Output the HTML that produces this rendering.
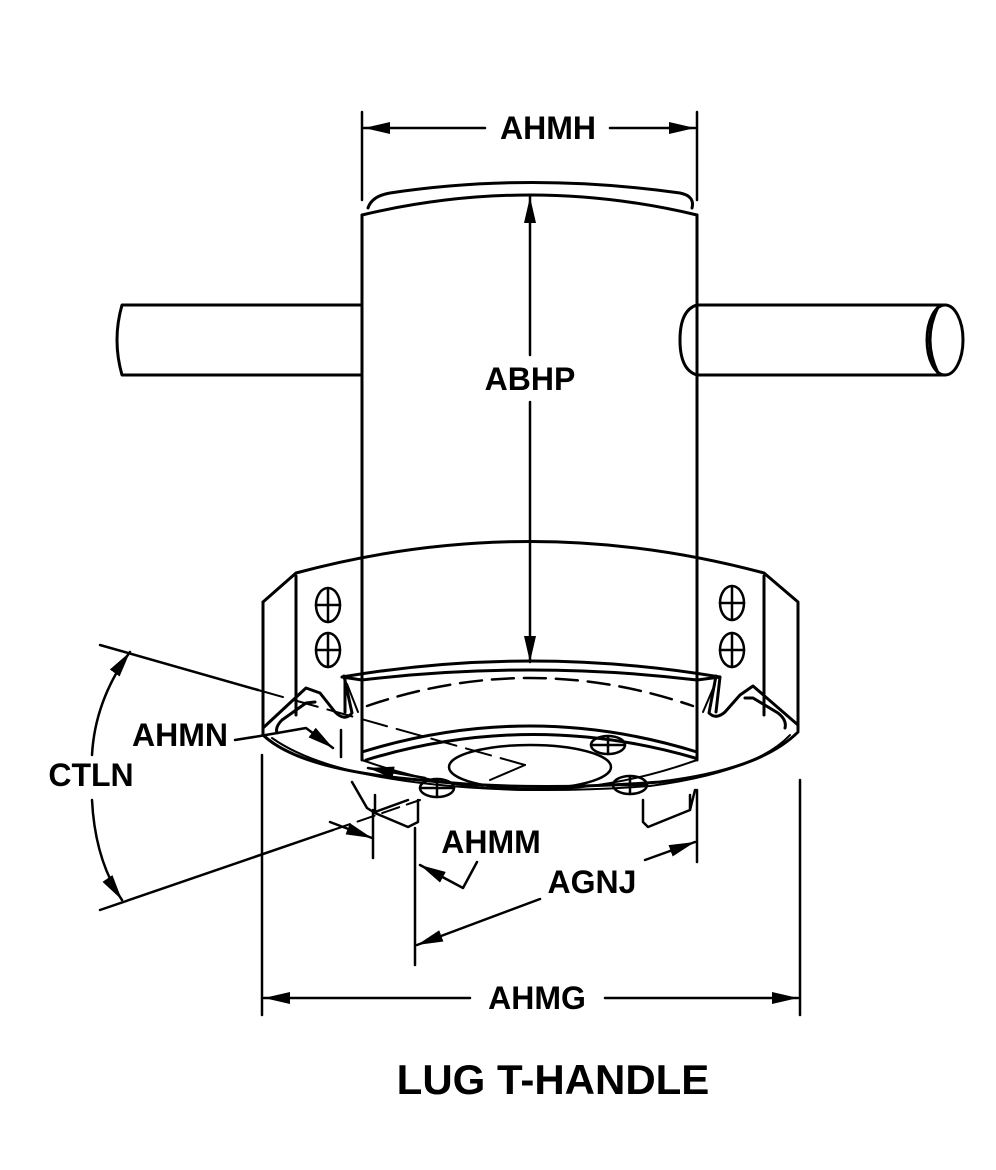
<!DOCTYPE html>
<html><head><style>
html,body{margin:0;padding:0;background:#fff;}
svg{display:block;}
text{font-family:"Liberation Sans",Arial,sans-serif;font-weight:bold;fill:#000;}
</style></head><body>
<svg width="996" height="1170" viewBox="0 0 996 1170" xmlns="http://www.w3.org/2000/svg">
<defs>
<marker id="b" markerWidth="26" markerHeight="12" refX="26" refY="6" orient="auto-start-reverse" markerUnits="userSpaceOnUse">
<path d="M0,0 L26,6 L0,12 Z" fill="#000"/></marker>
</defs>
<g fill="none" stroke="#000" stroke-width="3" stroke-linejoin="round" stroke-linecap="round">
<line x1="362" y1="112" x2="362" y2="200" stroke-width="2.5"/>
<line x1="697" y1="112" x2="697" y2="200" stroke-width="2.5"/>
<line x1="364" y1="128" x2="485" y2="128" stroke-width="2.5" marker-start="url(#b)"/>
<line x1="610" y1="128" x2="695" y2="128" stroke-width="2.5" marker-end="url(#b)"/>
<path d="M362,215 Q530,175 697,215"/>
<path d="M368,208 Q372,196 390,193 Q530,172 680,193 Q695,196 692,208"/>
<line x1="362" y1="215" x2="362" y2="760"/>
<line x1="697" y1="215" x2="697" y2="760"/>
<path d="M362,305 L122,305 Q112,340 122,375 L362,375"/>
<path d="M697,305 Q680,310 680,340 Q680,370 697,375 L945,375 M697,305 L945,305"/>
<ellipse cx="945" cy="340" rx="18" ry="35"/>
<path d="M938,307 Q922,340 938,373"/>
<line x1="530" y1="197" x2="530" y2="355" stroke-width="2.5" marker-start="url(#b)"/>
<line x1="530" y1="402" x2="530" y2="662" stroke-width="2.5" marker-end="url(#b)"/>
<path d="M263,602 L296,573 Q530,510 764,573 L798,602 L798,730"/>
<path d="M263,602 L263,735"/>
<line x1="296" y1="576" x2="296" y2="715"/>
<line x1="764" y1="576" x2="764" y2="715"/>
<path d="M263,735 Q300,770 420,780 Q530,792 660,782 Q760,770 798,732"/>
<path d="M272,738 Q320,772 430,784 Q530,795 650,786 Q755,772 790,735" stroke-width="2"/>
<path d="M263,735 L263,728 L306,688 L320,693 L335,712 Q345,722 352,713 L344,676"/>
<path d="M277,733 Q275,727 282,720 L306,703 L315,702"/>
<path d="M798,730 L798,725 L753,686 L740,695 L725,712 Q716,720 709,713 L716,676"/>
<path d="M785,728 Q787,720 778,713 L753,698 L745,698"/>
<path d="M342,677 Q530,645 720,677"/>
<path d="M345,680 L345,712 M342,677 L362,680 Q530,660 697,680 L720,677 L716,712"/>
<path d="M347,684 L358,712 M715,684 L703,712" stroke-width="2"/>
<path d="M367,706 Q530,650 693,706" stroke-dasharray="22,10" stroke-width="2.5"/>
<path d="M362,752 Q530,700 697,752"/>
<path d="M366,760 Q530,710 695,758"/>
<path d="M362,760 Q530,820 697,760" stroke-width="2"/>
<g stroke-width="2.5">
<ellipse cx="328" cy="605" rx="12" ry="17"/><path d="M328,588 L328,622 M316,605 L340,605"/>
<ellipse cx="328" cy="650" rx="12" ry="17"/><path d="M328,633 L328,667 M316,650 L340,650"/>
<ellipse cx="732" cy="603" rx="12" ry="17"/><path d="M732,586 L732,620 M720,603 L744,603"/>
<ellipse cx="732" cy="650" rx="12" ry="17"/><path d="M732,633 L732,667 M720,650 L744,650"/>
<ellipse cx="608" cy="745" rx="17" ry="9"/><path d="M591,745 L625,745 M608,736 L608,754"/>
<ellipse cx="437" cy="788" rx="17" ry="9"/><path d="M420,788 L454,788 M437,779 L437,797"/>
<ellipse cx="630" cy="785" rx="17" ry="9"/><path d="M613,785 L647,785 M630,776 L630,794"/>
<ellipse cx="530" cy="767" rx="81" ry="22"/>
</g>
<path d="M352,782 L367,808 L375,813 L408,827 L418,822 L418,800 M375,795 L375,813 M375,812 L408,800" stroke-width="2.5"/>
<path d="M695,790 L690,810 L648,827 L643,822 L643,800 M690,795 L690,810" stroke-width="2.5"/>
<path d="M258,690 L525,765" stroke-width="2" stroke-dasharray="26,10"/>
<path d="M525,765 L490,780" stroke-width="2"/>
<path d="M333,830 L420,800" stroke-width="2" stroke-dasharray="18,8"/>
<line x1="100" y1="645" x2="258" y2="690" stroke-width="2.5"/>
<line x1="100" y1="910" x2="333" y2="830" stroke-width="2.5"/>
<path d="M92,755 Q95,700 130,652" stroke-width="2.5" marker-end="url(#b)"/>
<path d="M92,800 Q95,860 122,900" stroke-width="2.5" marker-end="url(#b)"/>
<path d="M235,740 L260,736 L306,728 L333,748" stroke-width="2.5" marker-end="url(#b)"/>
<line x1="341" y1="730" x2="341" y2="757" stroke-width="2.5"/>
<line x1="373" y1="810" x2="373" y2="858" stroke-width="2.5"/>
<line x1="330" y1="822" x2="372" y2="838" stroke-width="2.5" marker-end="url(#b)"/>
<path d="M477,862 L463,888 L420,865" stroke-width="2.5" marker-end="url(#b)"/>
<line x1="425" y1="778" x2="368" y2="768" stroke-width="2.5" marker-end="url(#b)"/>
<line x1="415" y1="828" x2="415" y2="965" stroke-width="2.5"/>
<line x1="697" y1="790" x2="697" y2="862" stroke-width="2.5"/>
<line x1="540" y1="899" x2="417" y2="945" stroke-width="2.5" marker-end="url(#b)"/>
<line x1="645" y1="860" x2="695" y2="842" stroke-width="2.5" marker-end="url(#b)"/>
<line x1="262" y1="755" x2="262" y2="1015" stroke-width="2.5"/>
<line x1="800" y1="780" x2="800" y2="1015" stroke-width="2.5"/>
<line x1="264" y1="998" x2="470" y2="998" stroke-width="2.5" marker-start="url(#b)"/>
<line x1="605" y1="998" x2="798" y2="998" stroke-width="2.5" marker-end="url(#b)"/>
</g>
<g font-size="32">
<text x="548" y="139" text-anchor="middle">AHMH</text>
<text x="530" y="390" text-anchor="middle">ABHP</text>
<text x="180" y="746" text-anchor="middle">AHMN</text>
<text x="91" y="786" text-anchor="middle">CTLN</text>
<text x="491" y="853" text-anchor="middle">AHMM</text>
<text x="592" y="893" text-anchor="middle">AGNJ</text>
<text x="537" y="1009" text-anchor="middle">AHMG</text>
</g>
<text x="553" y="1094" text-anchor="middle" font-size="42">LUG T-HANDLE</text>
</svg>
</body></html>
